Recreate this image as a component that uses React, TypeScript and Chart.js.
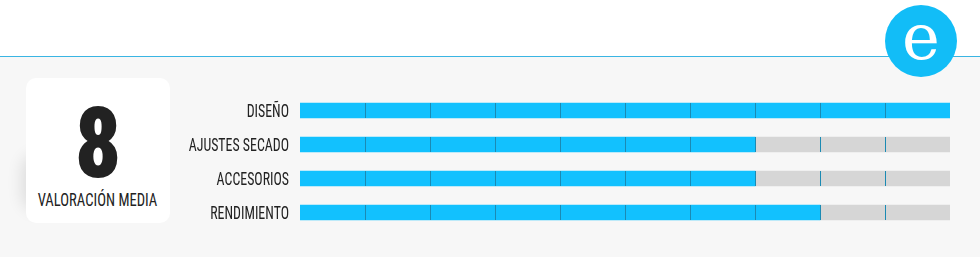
import React, { useEffect, useRef } from "react";
import { Chart, registerables } from "chart.js";

Chart.register(...registerables);

const categories = ["DISEÑO", "AJUSTES SECADO", "ACCESORIOS", "RENDIMIENTO"];
const scores = [10, 7, 7, 8];
const maxScore = 10;
const remaining = scores.map((v) => maxScore - v);
const averageLabel = "8";
const averageCaption = "VALORACIÓN MEDIA";

const CYAN = "#12c1fe";
const GRAY = "#d6d6d6";
const DIVIDER = "#1b8ab3";
const TEXT = "#222";
const COND = '"Roboto Condensed", "Open Sans", sans-serif';
const LABEL_SQUEEZE = 0.77;
const LABEL_NUDGE = 1.5;

const dividerPlugin = {
  id: "dividers",
  afterDatasetsDraw(chart: any) {
    const ctx = chart.ctx;
    const xs = chart.scales.x;
    const meta = chart.getDatasetMeta(0);
    ctx.save();
    ctx.strokeStyle = DIVIDER;
    ctx.lineWidth = 1;
    meta.data.forEach((bar: any) => {
      const h = bar.height;
      const top = bar.y - h / 2;
      for (let i = 1; i < maxScore; i++) {
        const x = Math.round(xs.getPixelForValue(i)) + 0.5;
        ctx.beginPath();
        ctx.moveTo(x, top);
        ctx.lineTo(x, top + h);
        ctx.stroke();
      }
    });
    ctx.restore();
  },
};

function squeezeLabels(scale: any) {
  if (scale.__squeezed) return;
  scale.__squeezed = true;
  const orig = scale.drawLabels.bind(scale);
  scale.drawLabels = (area: any) => {
    const ctx = scale.ctx;
    const ax = scale.right - scale.options.ticks.padding;
    ctx.save();
    ctx.translate(ax, LABEL_NUDGE);
    ctx.scale(LABEL_SQUEEZE, 1);
    ctx.translate(-ax, 0);
    orig(area);
    ctx.restore();
  };
}

export default function App() {
  const ref = useRef<HTMLCanvasElement | null>(null);

  useEffect(() => {
    document.body.style.margin = "0";
    const chart = new Chart(ref.current as HTMLCanvasElement, {
      type: "bar",
      data: {
        labels: categories,
        datasets: [
          { data: scores, backgroundColor: CYAN, barThickness: 15, borderWidth: 0 },
          { data: remaining, backgroundColor: GRAY, barThickness: 15, borderWidth: 0 },
        ],
      },
      options: {
        indexAxis: "y",
        responsive: false,
        animation: false,
        layout: { padding: { top: 93.5, bottom: 27.5, right: 30, left: 0 } },
        plugins: { legend: { display: false }, tooltip: { enabled: false } },
        scales: {
          x: { stacked: true, min: 0, max: maxScore, display: false },
          y: {
            stacked: true,
            grid: { display: false, drawTicks: false },
            border: { display: false },
            ticks: { padding: 11, color: TEXT, font: { family: COND, size: 18 } },
            afterFit: (s: any) => {
              s.width = 300;
              squeezeLabels(s);
            },
          },
        },
      },
      plugins: [dividerPlugin],
    });
    return () => chart.destroy();
  }, []);

  return (
    <div style={{ position: "relative", width: 980, height: 257, background: "#f7f7f7", overflow: "hidden" }}>
      <div style={{ position: "absolute", left: 0, top: 0, width: 980, height: 56, background: "#fff" }} />
      <div style={{ position: "absolute", left: 0, top: 56, width: 980, height: 1, background: "#3ab5e3" }} />
      <div
        style={{
          position: "absolute",
          left: 28,
          top: 160,
          width: 20,
          height: 45,
          borderRadius: 12,
          boxShadow: "0 0 16px 6px rgba(0,0,0,0.11)",
        }}
      />
      <div
        style={{
          position: "absolute",
          left: 26,
          top: 78,
          width: 144,
          height: 145,
          borderRadius: 10,
          background: "#fff",
        }}
      >
        <div
          style={{
            position: "absolute",
            left: 0,
            width: 144,
            top: 17,
            textAlign: "center",
            fontFamily: COND,
            fontWeight: 900,
            fontSize: 98,
            lineHeight: "98px",
            color: TEXT,
            transform: "scaleX(0.93)",
          }}
        >
          {averageLabel}
        </div>
        <div
          style={{
            position: "absolute",
            left: -30,
            width: 203,
            top: 112,
            textAlign: "center",
            fontFamily: COND,
            fontSize: 19,
            lineHeight: "19px",
            color: TEXT,
            whiteSpace: "nowrap",
            transform: "scaleX(0.77)",
          }}
        >
          {averageCaption}
        </div>
      </div>
      <canvas ref={ref} width={980} height={257} style={{ position: "absolute", left: 0, top: 0 }} />
      <div
        style={{
          position: "absolute",
          left: 885,
          top: 5,
          width: 72,
          height: 72,
          borderRadius: "50%",
          background: "#12bdf7",
        }}
      >
        <div
          style={{
            position: "absolute",
            left: 0,
            width: 72,
            top: 0,
            textAlign: "center",
            fontFamily: '"DejaVu Serif", serif',
            fontSize: 64,
            lineHeight: "64px",
            color: "#fff",
          }}
        >
          e
        </div>
      </div>
    </div>
  );
}
